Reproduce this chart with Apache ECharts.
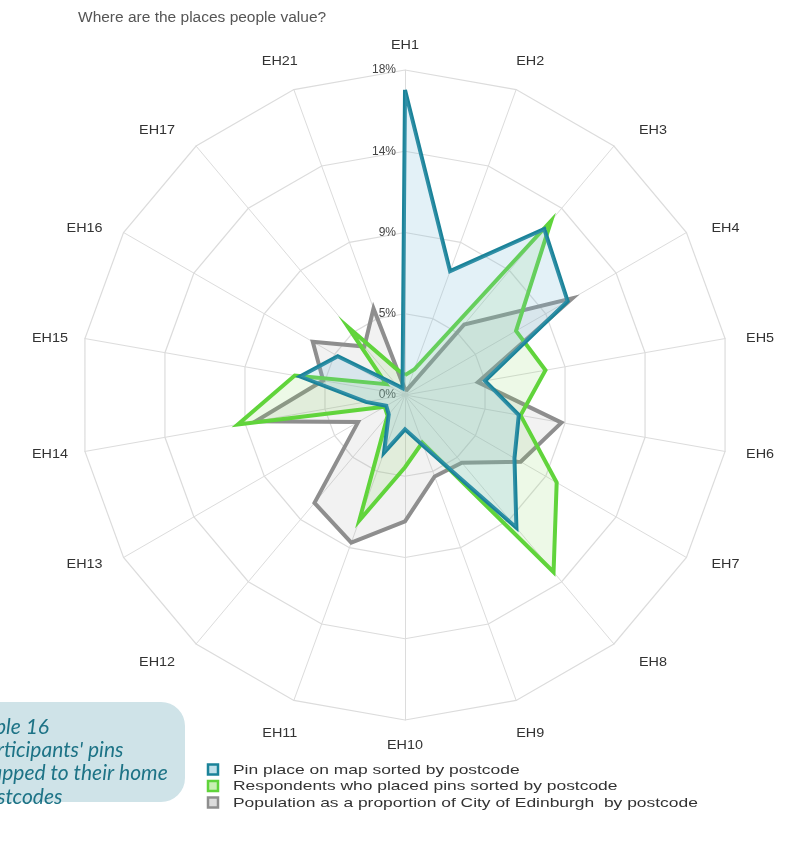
<!DOCTYPE html>
<html>
<head>
<meta charset="utf-8">
<style>
  html, body { margin: 0; padding: 0; background: #ffffff; }
  #chart { width: 787px; height: 842px; }
</style>
<script src="https://cdn.jsdelivr.net/npm/echarts@6/dist/echarts.min.js"></script>
</head>
<body>
<div id="chart"></div>
<script>
// Postcode districts, listed clockwise starting at the top
const postcodes = ['EH1', 'EH2', 'EH3', 'EH4', 'EH5', 'EH6', 'EH7', 'EH8', 'EH9',
                   'EH10', 'EH11', 'EH12', 'EH13', 'EH14', 'EH15', 'EH16', 'EH17', 'EH21'];

// Share (%) of each series per postcode, same order as postcodes
const pinPlaces   = [16.9, 7.3, 12.0, 10.4, 4.5, 6.4, 7.0, 9.6, 3.0, 1.9, 3.4, 1.4, 1.2, 2.2, 5.9, 4.3, 0.7, 0.4];
const respondents = [1.1, 1.5, 12.6, 7.1, 7.9, 6.5, 9.7, 12.8, 2.8, 4.0, 7.4, 1.5, 1.3, 9.4, 6.2, 1.2, 4.9, 1.6];
const population  = [0.3, 0.3, 5.1, 10.7, 4.1, 8.8, 7.4, 4.9, 4.8, 7.0, 8.7, 7.8, 3.0, 8.4, 4.6, 5.9, 3.5, 5.1];

// Radial scale
const scaleMax = 18;
const scaleSplits = 4;

const seriesNames = [
  'Pin place on map sorted by postcode',
  'Respondents who placed pins sorted by postcode',
  'Population as a proportion of City of Edinburgh  by postcode'
];

const titleText = 'Where are the places people value?';
const calloutLines = ['Table 16', "Participants' pins", 'mapped to their home', 'postcodes'];

const lineColors = ['#1b8399', '#5fd43a', '#8e8e8e'];
const fillColors = ['rgba(125,190,215,0.30)', 'rgba(125,215,85,0.20)', 'rgba(150,150,150,0.18)'];
const iconFills  = ['#bfe0ea', '#c9efb4', '#dcdcdc'];
const values = [pinPlaces, respondents, population];

const FONT = '"Liberation Sans", Arial, Helvetica, sans-serif';

// ECharts lays radar indicators out counter-clockwise, so feed them reversed
// after the first one to get a clockwise order.
function clockwise(arr) {
  return [arr[0]].concat(arr.slice(1).reverse());
}
const orderedNames = clockwise(postcodes);

const indicators = orderedNames.map(function (name, i) {
  const ind = { name: name, min: 0, max: scaleMax };
  if (i === 0) {
    ind.axisLabel = {
      show: true,
      color: '#444',
      fontSize: 12,
      fontFamily: FONT,
      margin: 9,
      formatter: function (v) { return Math.round(v) + '%'; }
    };
  }
  return ind;
});

const chart = echarts.init(document.getElementById('chart'), null, { renderer: 'canvas' });

const radarSeries = [2, 1, 0].map(function (k) {
  return {
    type: 'radar',
    name: seriesNames[k],
    symbol: 'none',
    z: 2 + (2 - k),
    lineStyle: { color: lineColors[k], width: 4, join: 'miter' },
    itemStyle: { color: lineColors[k] },
    areaStyle: { color: fillColors[k] },
    data: [{ name: seriesNames[k], value: clockwise(values[k]) }]
  };
});

// Callout box in the lower-left corner
const callout = [{
  type: 'rect',
  id: 'calloutBox',
  left: -30,
  top: 702,
  shape: { width: 215, height: 100, r: [0, 24, 24, 0] },
  style: { fill: '#cfe3e8' },
  z: 10
}].concat(calloutLines.map(function (line, i) {
  return {
    type: 'text',
    id: 'callout' + i,
    x: -25,
    y: 727 + i * 23.3,
    style: {
      text: line,
      fill: '#1d7386',
      font: 'italic 21px Lato, "Open Sans", sans-serif',
      verticalAlign: 'middle'
    },
    z: 11
  };
}));

// Legend rows drawn below the chart
const legendRows = [];
seriesNames.forEach(function (name, k) {
  const yMid = 770 + k * 16.5;
  legendRows.push({
    type: 'rect',
    id: 'legIcon' + k,
    shape: { x: 208, y: yMid - 5.5, width: 10, height: 10 },
    style: { fill: iconFills[k], stroke: lineColors[k], lineWidth: 2.5 },
    z: 12
  });
  legendRows.push({
    type: 'text',
    id: 'legText' + k,
    x: 233,
    y: yMid,
    scaleX: 1.34,
    style: {
      text: name,
      fill: '#333',
      font: '13px ' + FONT,
      verticalAlign: 'middle'
    },
    z: 12
  });
});

chart.setOption({
  backgroundColor: '#ffffff',
  animation: false,
  title: {
    text: titleText,
    left: 73,
    top: 5,
    textStyle: {
      color: '#555',
      fontSize: 15.5,
      fontWeight: 'normal',
      fontFamily: FONT
    }
  },
  radar: {
    center: [405, 395],
    radius: 325,
    startAngle: 90,
    shape: 'polygon',
    splitNumber: scaleSplits,
    indicator: indicators,
    axisName: { show: false },
    axisLine: { lineStyle: { color: '#dcdcdc', width: 1 } },
    splitLine: { lineStyle: { color: '#dcdcdc', width: 1.2 } },
    splitArea: { show: false },
    axisTick: { show: false },
    axisLabel: { show: false }
  },
  graphic: callout.concat(legendRows),
  series: radarSeries
});

// Postcode names, set just outside the outer-ring vertex of each spoke
(function placeAxisNames() {
  let radar = null;
  try { radar = chart.getModel().getComponent('radar').coordinateSystem; } catch (e) { radar = null; }
  const n = orderedNames.length;
  const outer = 325;
  const nameEls = orderedNames.map(function (name, i) {
    let cx = 405, cy = 395, ux, uy;
    if (radar) {
      const c = radar.coordToPoint(0, i);
      const p = radar.coordToPoint(1, i);
      cx = c[0]; cy = c[1];
      ux = p[0] - cx; uy = p[1] - cy;
    } else {
      const a = (90 + i * 360 / n) * Math.PI / 180;
      ux = Math.cos(a); uy = -Math.sin(a);
    }
    const vx = cx + ux * outer, vy = cy + uy * outer;
    let ox, oy;
    if (Math.abs(ux) < 0.05) {
      ox = 0;
      oy = uy > 0 ? 26 : -24;
    } else {
      if (Math.abs(ux) < 0.5) ox = ux * 41;
      else if (Math.abs(ux) > 0.9) ox = Math.sign(ux) * 35;
      else ox = Math.sign(ux) * 39;
      oy = uy > 0 ? 36 * Math.pow(uy, 3) + 3 : -34 * Math.pow(-uy, 3);
    }
    return {
      type: 'text',
      id: 'axisName' + i,
      x: vx + ox,
      y: vy + oy,
      scaleX: 1.2,
      style: {
        text: name,
        fill: '#333',
        font: '12px ' + FONT,
        align: 'center',
        verticalAlign: 'middle'
      },
      z: 5
    };
  });
  chart.setOption({ graphic: nameEls });
})();
</script>
</body>
</html>
